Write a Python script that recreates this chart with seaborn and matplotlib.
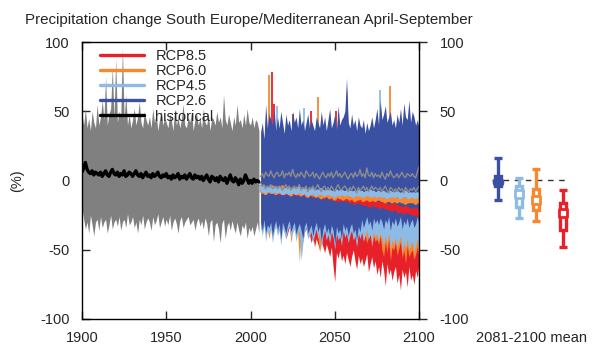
import numpy as np
import pandas as pd
import matplotlib
matplotlib.use("Agg")
import matplotlib.pyplot as plt
from matplotlib.lines import Line2D
import seaborn as sns

# ---------------- data ----------------
hist_years = list(range(1900, 2006))
hist_hi = [48, 40, 52, 38, 45, 36, 50, 42, 38, 55,
           40, 46, 58, 44, 75, 40, 48, 52, 82, 45,
           88, 42, 50, 46, 96, 44, 62, 40, 48, 38,
           44, 52, 40, 46, 57, 42, 38, 50, 44, 40,
           46, 38, 52, 42, 48, 36, 44, 50, 40, 45,
           42, 38, 48, 44, 36, 52, 40, 46, 38, 44,
           55, 40, 38, 46, 42, 50, 36, 44, 48, 40,
           45, 38, 52, 42, 40, 48, 36, 46, 44, 40,
           50, 42, 46, 38, 62, 44, 40, 48, 42, 36,
           46, 40, 55, 42, 44, 38, 48, 40, 52, 42,
           40, 46, 38, 44, 42, 36]
hist_lo = [-20, -28, -35, -30, -38, -25, -32, -40, -30, -28,
           -36, -26, -34, -30, -28, -38, -32, -25, -35, -30,
           -28, -33, -26, -36, -30, -28, -34, -24, -32, -30,
           -26, -34, -30, -38, -28, -32, -25, -35, -30, -27,
           -30, -36, -26, -32, -29, -24, -34, -30, -26, -33,
           -28, -32, -25, -36, -30, -27, -31, -38, -29, -26,
           -34, -30, -28, -26, -32, -30, -28, -36, -30, -27,
           -33, -29, -35, -27, -31, -40, -30, -28, -44, -32,
           -30, -35, -45, -31, -28, -42, -33, -30, -36, -29,
           -34, -38, -30, -36, -40, -32, -35, -30, -42, -34,
           -37, -33, -40, -35, -30, -38]
hist_mean = [6, 9, 13, 8, 6, 5, 7, 4, 6, 5,
             4, 6, 3, 5, 7, 4, 3, 6, 8, 5,
             4, 6, 3, 5, 4, 7, 3, 4, 6, 5,
             3, 5, 7, 4, 3, 5, 2, 4, 6, 3,
             4, 2, 5, 3, 4, 6, 3, 2, 4, 3,
             5, 2, 3, 1, 4, 2, 3, 5, 1, 3,
             2, 4, 1, 3, 5, 2, 1, 4, 2, 3,
             1, 3, 0, 2, 4, 1, -1, 3, 2, 0,
             2, -1, 3, 1, 0, 2, -2, 1, 4, 0,
             -1, 2, 0, -3, 1, -2, 0, 4, 1, -2,
             0, -2, 1, -1, 0, -1]

fut_years = list(range(2006, 2101))
rcp26_hi = [35, 42, 30, 55, 38, 48, 44, 40, 52, 36,
            46, 38, 50, 42, 34, 48, 40, 44, 36, 50,
            42, 46, 38, 52, 40, 44, 36, 42, 48, 38,
            44, 40, 36, 46, 42, 38, 50, 40, 46, 36,
            44, 52, 38, 42, 48, 36, 54, 40, 44, 46,
            50, 74, 42, 38, 48, 40, 44, 36, 46, 40,
            38, 44, 34, 42, 36, 40, 46, 38, 44, 52,
            40, 58, 44, 48, 54, 42, 46, 50, 40, 44,
            38, 48, 42, 52, 40, 56, 46, 44, 58, 42,
            50, 46, 40, 44, 38]
rcp26_lo = [-30, -36, -28, -38, -32, -34, -30, -40, -33, -29,
            -36, -31, -42, -30, -34, -38, -32, -29, -37, -33,
            -30, -39, -34, -31, -36, -42, -33, -30, -38, -35,
            -32, -40, -34, -30, -37, -33, -44, -35, -31, -38,
            -34, -40, -32, -36, -46, -33, -38, -35, -42, -31,
            -36, -33, -40, -34, -31, -38, -35, -43, -33, -37,
            -28, -34, -30, -26, -32, -29, -36, -27, -31, -28,
            -32, -27, -30, -35, -28, -31, -26, -36, -29, -32,
            -27, -33, -30, -26, -35, -29, -32, -27, -34, -30,
            -28, -34, -31, -26, -32]
rcp45_lo = [-34, -40, -32, -44, -36, -38, -35, -45, -37, -33,
            -40, -36, -47, -34, -38, -42, -36, -33, -41, -38,
            -35, -44, -38, -36, -58, -46, -38, -34, -42, -40,
            -37, -45, -39, -35, -42, -38, -49, -40, -36, -43,
            -39, -45, -37, -41, -50, -38, -43, -40, -47, -36,
            -41, -38, -45, -39, -36, -43, -40, -48, -38, -42,
            -37, -44, -40, -36, -42, -39, -46, -37, -41, -38,
            -44, -38, -42, -47, -40, -45, -38, -50, -43, -46,
            -41, -48, -44, -40, -52, -45, -49, -42, -50, -46,
            -44, -52, -47, -42, -50]
rcp60_lo = [-33, -38, -30, -40, -35, -42, -34, -38, -36, -32,
            -38, -35, -44, -33, -37, -40, -35, -32, -45, -36,
            -34, -40, -37, -59, -36, -42, -37, -33, -40, -38,
            -36, -42, -38, -34, -40, -52, -44, -38, -35, -41,
            -38, -43, -36, -40, -46, -37, -42, -39, -44, -35,
            -40, -37, -44, -38, -35, -42, -39, -46, -37, -41,
            -36, -43, -39, -45, -41, -38, -48, -40, -44, -42,
            -46, -40, -50, -55, -44, -52, -42, -58, -48, -50,
            -45, -54, -49, -44, -56, -50, -60, -47, -55, -52,
            -50, -57, -53, -48, -55]
rcp85_lo = [-32, -36, -30, -38, -34, -36, -33, -40, -35, -31,
            -37, -34, -40, -32, -36, -42, -38, -34, -40, -36,
            -34, -40, -36, -42, -38, -44, -37, -35, -41, -39,
            -45, -40, -48, -42, -46, -50, -44, -48, -52, -46,
            -50, -55, -48, -62, -73, -52, -56, -50, -58, -54,
            -60, -52, -57, -62, -55, -50, -58, -64, -54, -60,
            -56, -62, -58, -53, -66, -60, -55, -63, -58, -68,
            -62, -70, -58, -65, -76, -60, -68, -64, -72, -66,
            -62, -74, -68, -79, -64, -70, -66, -77, -62, -72,
            -68, -75, -65, -70, -60]

# single-model peaks poking above the RCP2.6 envelope
spike_years_85 = [2013, 2014, 2025, 2036, 2051, 2077]
spike_vals_85 = [78, 55, 48, 50, 50, 45]
spike_years_60 = [2011, 2040, 2055, 2083]
spike_vals_60 = [76, 60, 40, 68]
spike_years_45 = [2016, 2032, 2077]
spike_vals_45 = [54, 52, 65]

rcp85_mean = [-5, -7, -6, -8, -6, -7, -8, -7, -8, -6,
              -8, -9, -7, -9, -8, -9, -7, -9, -8, -9,
              -8, -9, -10, -8, -9, -9, -10, -9, -8, -10,
              -9, -10, -11, -9, -10, -9, -11, -10, -12, -10,
              -11, -12, -10, -13, -11, -12, -14, -12, -13, -11,
              -14, -13, -12, -15, -13, -14, -16, -14, -15, -13,
              -16, -15, -17, -15, -16, -18, -16, -17, -15, -18,
              -17, -19, -18, -16, -19, -18, -20, -19, -21, -18,
              -20, -19, -22, -20, -21, -23, -20, -22, -21, -23,
              -22, -24, -21, -23, -25]
rcp45_mean = [-5, -7, -6, -8, -6, -7, -5, -8, -7, -6,
              -8, -6, -7, -9, -7, -8, -6, -9, -7, -8,
              -7, -9, -8, -6, -8, -9, -7, -8, -10, -8,
              -9, -7, -8, -10, -8, -9, -7, -9, -10, -8,
              -9, -8, -10, -9, -11, -8, -9, -10, -8, -9,
              -10, -9, -8, -10, -9, -11, -9, -10, -8, -10,
              -9, -11, -10, -9, -10, -8, -11, -9, -10, -11,
              -9, -10, -11, -9, -10, -12, -10, -9, -11, -10,
              -11, -9, -10, -12, -10, -11, -9, -10, -12, -10,
              -11, -10, -12, -10, -11]
rcp60_mean = [-6, -8, -5, -9, -7, -6, -8, -5, -7, -9,
              -6, -8, -7, -5, -9, -7, -8, -6, -10, -7,
              -8, -6, -9, -7, -10, -8, -7, -9, -11, -8,
              -9, -10, -8, -11, -9, -10, -12, -9, -11, -10,
              -10, -12, -9, -11, -13, -10, -11, -12, -10, -13,
              -11, -12, -10, -13, -11, -12, -14, -11, -13, -12,
              -12, -14, -11, -13, -12, -14, -13, -11, -14, -12,
              -13, -12, -14, -13, -15, -12, -14, -13, -15, -14,
              -13, -15, -14, -12, -15, -14, -16, -13, -15, -14,
              -15, -13, -16, -14, -15]
gray_hi = [3, 5, 2, 6, 4, 3, 7, 4, 2, 5,
           6, 3, 4, 7, 2, 5, 4, 6, 3, 8,
           4, 2, 5, 3, 6, 4, 2, 7, 5, 3,
           4, 6, 2, 5, 3, 1, 4, 6, 3, 2,
           5, 3, 6, 2, 4, 7, 3, 5, 2, 4,
           6, 3, 1, 4, 5, 2, 6, 3, 4, 8,
           3, 5, 2, 9, 4, 3, 6, 2, 5, 3,
           4, 2, 6, 3, 1, 5, 3, 7, 4, 2,
           3, 5, 2, 4, 6, 3, 2, 5, 4, 3,
           5, 3, 2, 6, 10]
gray_lo = [-2, -4, -3, -6, -4, -5, -3, -6, -5, -4,
           -6, -4, -5, -7, -5, -3, -6, -4, -7, -5,
           -4, -6, -5, -3, -7, -5, -6, -4, -8, -5,
           -6, -4, -7, -5, -3, -6, -8, -5, -4, -7,
           -5, -7, -4, -6, -8, -5, -3, -6, -7, -5,
           -4, -6, -8, -5, -7, -4, -6, -9, -5, -7,
           -6, -4, -7, -5, -8, -6, -4, -7, -5, -6,
           -7, -5, -8, -6, -4, -7, -9, -5, -6, -8,
           -6, -8, -5, -7, -6, -9, -5, -7, -8, -6,
           -7, -5, -8, -6, -4]

# 2081-2100 mean summary
scen_names = ["RCP2.6", "RCP4.5", "RCP6.0", "RCP8.5"]
box_x = [28, 49, 66, 93]
sum_mean = [-1, -10, -14, -23.5]
sum_box_lo = [-4, -19, -21, -36]
sum_box_hi = [3, -4, -6, -16]
sum_wh_lo = [-14, -27, -29, -48]
sum_wh_hi = [16.5, 2, 8.5, -6.5]

legend_labels = ["RCP8.5", "RCP6.0", "RCP4.5", "RCP2.6", "historical"]

# ---------------- style ----------------
C85 = "#e8202a"
C60 = "#f7882f"
C45 = "#8dbbe6"
C26 = "#3a50a2"
CGR = "#808080"

sns.set_style("ticks")
plt.rcParams["font.family"] = ["Liberation Sans", "DejaVu Sans"]
plt.rcParams["axes.unicode_minus"] = False
FS = 10.5

fig = plt.figure(figsize=(5.97, 3.49), dpi=100)
W, H = 597, 349
top_px, bot_px = 42, 319
ax = fig.add_axes([82 / W, 1 - bot_px / H, (419 - 82) / W, (bot_px - top_px) / H])
ax2 = fig.add_axes([470 / W, 1 - bot_px / H, 120 / W, (bot_px - top_px) / H])

# historical spread
ax.fill_between(hist_years, hist_lo, hist_hi, color=CGR, lw=0, zorder=1)

# future spreads
fy = np.array(fut_years)
hi26 = np.array(rcp26_hi)
ax.fill_between(fy, rcp85_lo, hi26 - 8, color=C85, lw=0, zorder=2)
ax.fill_between(fy, rcp60_lo, hi26 - 8, color=C60, lw=0, zorder=3)
ax.fill_between(fy, rcp45_lo, hi26 - 6, color=C45, lw=0, zorder=4)
ax.vlines(spike_years_85, 0, spike_vals_85, color=C85, lw=1.3, zorder=4)
ax.vlines(spike_years_60, 0, spike_vals_60, color=C60, lw=1.3, zorder=4)
ax.vlines(spike_years_45, 0, spike_vals_45, color=C45, lw=1.3, zorder=4)
ax.fill_between(fy, rcp26_lo, hi26, color=C26, lw=0, zorder=5)

# mean / reference lines
fut_df = pd.DataFrame({"year": fut_years, "g_hi": gray_hi, "g_lo": gray_lo,
                       "m45": rcp45_mean, "m60": rcp60_mean, "m85": rcp85_mean})
hist_df = pd.DataFrame({"year": hist_years, "mean": hist_mean})
sns.lineplot(data=fut_df, x="year", y="g_hi", ax=ax, color="#8c8c8c", lw=1.0, zorder=6)
sns.lineplot(data=fut_df, x="year", y="m85", ax=ax, color=C85, lw=3.4, zorder=6)
sns.lineplot(data=fut_df, x="year", y="m60", ax=ax, color=C60, lw=3.2, zorder=7)
sns.lineplot(data=fut_df, x="year", y="m45", ax=ax, color=C45, lw=3.2, zorder=8)
sns.lineplot(data=fut_df, x="year", y="g_lo", ax=ax, color="#8c8c8c", lw=1.0, zorder=9)
sns.lineplot(data=hist_df, x="year", y="mean", ax=ax, color="black", lw=2.4, zorder=9)

ax.set_xlim(1900, 2100)
ax.set_ylim(-100, 100)
ax.set_xlabel("")
ax.set_ylabel("(%)", fontsize=FS)
ax.yaxis.set_label_coords(-58 / 337, 0.5)
ax.set_xticks([1900, 1950, 2000, 2050, 2100])
ax.set_xticklabels(["1900", "1950", "2000", "2050", "2100"], fontsize=FS)
ax.set_yticks([-100, -50, 0, 50, 100])
ax.set_yticklabels(["-100", "-50", "0", "50", "100"], fontsize=FS)
ax.tick_params(axis="x", direction="in", length=6, width=1, top=True, pad=9)
ax.tick_params(axis="y", direction="in", length=6, width=1, right=False, pad=9)
for s in ax.spines.values():
    s.set_linewidth(1.0)
    s.set_color("black")
    s.set_zorder(20)

axr = ax.twinx()
axr.set_ylim(-100, 100)
axr.set_yticks([-100, -50, 0, 50, 100])
axr.set_yticklabels(["-100", "-50", "0", "50", "100"], fontsize=FS)
axr.tick_params(axis="y", direction="out", length=6, width=1, pad=9)
for s in axr.spines.values():
    s.set_visible(False)

handles = [Line2D([], [], color=c, lw=2.4) for c in [C85, C60, C45, C26, "black"]]
leg = ax.legend(handles, legend_labels, loc="upper left",
                bbox_to_anchor=(18 / 337, 0.975), frameon=False, fontsize=FS,
                handlelength=3.0, handletextpad=0.8, labelspacing=0.08,
                borderpad=0, borderaxespad=0)
leg.set_zorder(30)

ax.set_title("Precipitation change South Europe/Mediterranean April-September",
             fontsize=10.9, loc="left", x=-57 / 337, y=1.0, pad=13)

# summary panel
ax2.set_xlim(0, 120)
ax2.set_ylim(-100, 100)
ax2.hlines(0, 22, 98, colors="#333333", lw=1.0, linestyles=(0, (4, 4)), zorder=1)
cols = [C26, C45, C60, C85]
for i in range(4):
    x = box_x[i]
    c = cols[i]
    ax2.vlines(x, sum_wh_lo[i], sum_wh_hi[i], color=c, lw=2.4, zorder=2)
    ax2.hlines([sum_wh_lo[i], sum_wh_hi[i]], x - 4, x + 4, color=c, lw=2.4, zorder=2)
    ax2.bar(x, sum_box_hi[i] - sum_box_lo[i], bottom=sum_box_lo[i], width=6.5,
            color="white" if i > 0 else c, edgecolor=c, lw=2.4, zorder=3)
    ax2.scatter([x], [sum_mean[i]], s=40, marker="o" if i == 0 else "s",
                color=c if i == 0 else "white", edgecolor=c, lw=2.0, zorder=4)
for s in ax2.spines.values():
    s.set_visible(False)
ax2.set_yticks([])
ax2.set_xticks([61])
ax2.set_xticklabels(["2081-2100 mean"], fontsize=FS)
ax2.tick_params(axis="x", length=0, pad=9)
ax2.patch.set_alpha(0)

fig.savefig("out.png", dpi=100)
